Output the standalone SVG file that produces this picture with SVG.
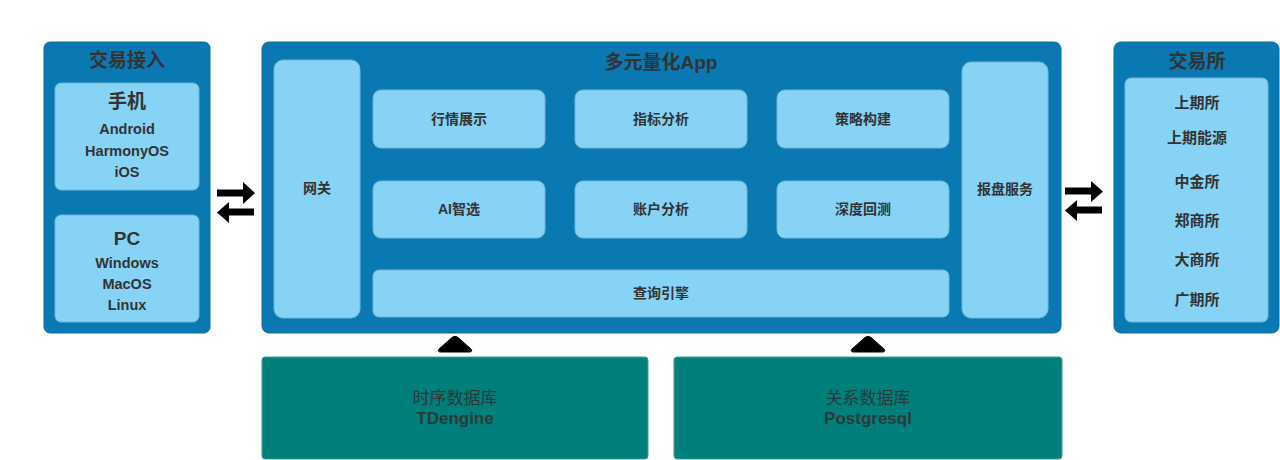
<svg xmlns="http://www.w3.org/2000/svg" width="1280" height="460" viewBox="0 0 1280 460">
<defs>
<style>
.panel{fill:#0A79B2;stroke:#0B6C9E;stroke-width:1}
.box{fill:#86D3F6;stroke:#6FB7D6;stroke-width:1}
.db{fill:#017F7B;stroke:#4A9C99;stroke-width:1}
text{font-family:"Liberation Sans","Noto Sans CJK SC",sans-serif;fill:#333333;text-anchor:middle;font-weight:bold}
.title{font-size:19px}
.lbl{font-size:14px}
.ex{font-size:15px}
.sm{font-size:14.5px}
.dbt{font-size:17px;fill:#2a3a3a}
.arr{fill:#000000}
</style>
</defs>
<rect width="1280" height="460" fill="#ffffff"/>

<g id="trade-access">
<rect class="panel" x="44" y="42" width="166" height="291" rx="6"/>
<text class="title" x="127" y="67">交易接入</text>
</g>
<g id="mobile">
<rect class="box" x="55" y="83" width="144" height="107" rx="6"/>
<text class="title" x="127" y="108">手机</text>
<text class="sm" x="127" y="134">Android</text>
<text class="sm" x="127" y="156">HarmonyOS</text>
<text class="sm" x="127" y="177">iOS</text>
</g>
<g id="pc">
<rect class="box" x="55" y="215" width="144" height="107" rx="6"/>
<text class="title" x="127" y="245">PC</text>
<text class="sm" x="127" y="268">Windows</text>
<text class="sm" x="127" y="289">MacOS</text>
<text class="sm" x="127" y="310">Linux</text>
</g>

<g id="app">
<rect class="panel" x="262" y="42" width="799" height="291" rx="7"/>
<text class="title" x="661" y="69">多元量化App</text>
</g>
<g id="gateway">
<rect class="box" x="274" y="60" width="86" height="258" rx="9"/>
<text class="lbl" x="317" y="193">网关</text>
</g>
<g id="market">
<rect class="box" x="373" y="90" width="172" height="58" rx="8"/>
<text class="lbl" x="459" y="124">行情展示</text>
</g>
<g id="indicator">
<rect class="box" x="575" y="90" width="172" height="58" rx="8"/>
<text class="lbl" x="661" y="124">指标分析</text>
</g>
<g id="strategy">
<rect class="box" x="777" y="90" width="172" height="58" rx="8"/>
<text class="lbl" x="863" y="124">策略构建</text>
</g>
<g id="ai">
<rect class="box" x="373" y="181" width="172" height="57" rx="8"/>
<text class="lbl" x="459" y="214">AI智选</text>
</g>
<g id="account">
<rect class="box" x="575" y="181" width="172" height="57" rx="8"/>
<text class="lbl" x="661" y="214">账户分析</text>
</g>
<g id="backtest">
<rect class="box" x="777" y="181" width="172" height="57" rx="8"/>
<text class="lbl" x="863" y="214">深度回测</text>
</g>
<g id="query">
<rect class="box" x="373" y="270" width="576" height="47" rx="6"/>
<text class="lbl" x="661" y="298">查询引擎</text>
</g>
<g id="order">
<rect class="box" x="962" y="62" width="86" height="256" rx="9"/>
<text class="lbl" x="1005" y="194">报盘服务</text>
</g>

<g id="exchanges">
<rect class="panel" x="1114" y="42" width="165" height="291" rx="7"/>
<text class="title" x="1197" y="68">交易所</text>
<rect class="box" x="1125" y="78" width="143" height="244" rx="6"/>
<text class="ex" x="1197" y="108">上期所</text>
<text class="ex" x="1197" y="143">上期能源</text>
<text class="ex" x="1197" y="187">中金所</text>
<text class="ex" x="1197" y="226">郑商所</text>
<text class="ex" x="1197" y="265">大商所</text>
<text class="ex" x="1197" y="305">广期所</text>
</g>

<g id="tsdb">
<rect class="db" x="262" y="357" width="386" height="102" rx="3"/>
<text class="dbt" x="455" y="404" style="font-weight:normal">时序数据库</text>
<text class="dbt" x="455" y="424">TDengine</text>
</g>
<g id="rdb">
<rect class="db" x="674" y="357" width="388" height="102" rx="3"/>
<text class="dbt" x="868" y="404" style="font-weight:normal">关系数据库</text>
<text class="dbt" x="868" y="424">Postgresql</text>
</g>

<g id="connectors">
<path class="arr" d="M217,189.5 L243,189.5 L243,182 L255,193 L243,204 L243,196.5 L217,196.5 Z"/>
<path class="arr" d="M254,208.5 L229,208.5 L229,202 L217,212.5 L229,223 L229,215.5 L254,215.5 Z"/>
<path class="arr" d="M1065,187.5 L1091,187.5 L1091,181 L1103,191.5 L1091,202 L1091,194.5 L1065,194.5 Z"/>
<path class="arr" d="M1102,206.5 L1077,206.5 L1077,200 L1065,210.5 L1077,221 L1077,213.5 L1102,213.5 Z"/>
<path class="arr" d="M452,337.5 Q455,335 458,337.5 L471,349 Q473,352 469,352 L441,352 Q437,352 439,349 Z" stroke="#000" stroke-width="1" stroke-linejoin="round"/>
<path class="arr" d="M865,337.5 Q868,335 871,337.5 L884,349 Q886,352 882,352 L854,352 Q850,352 852,349 Z" stroke="#000" stroke-width="1" stroke-linejoin="round"/>
</g>
</svg>
